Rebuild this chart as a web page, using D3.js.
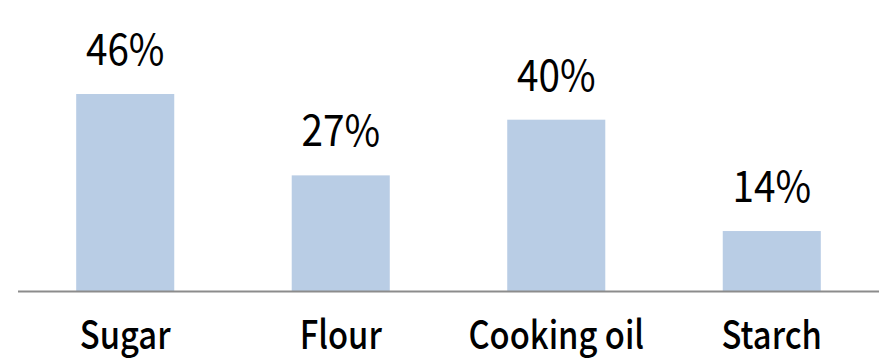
<!DOCTYPE html>
<html>
<head>
<meta charset="utf-8">
<script src="https://cdn.jsdelivr.net/npm/d3@7"></script>
<style>
  body { margin: 0; background: #fff; }
  text { font-family: "Noto Sans CJK KR", "Noto Sans", sans-serif; fill: #000; }
</style>
</head>
<body>
<div id="chart"></div>
<script>
// data
var categories = ["Sugar", "Flour", "Cooking oil", "Starch"];
var values = [46, 27, 40, 14];
var valueLabels = ["46%", "27%", "40%", "14%"];

var width = 879, height = 361;
var baseY = 291;

var svg = d3.select("#chart").append("svg")
    .attr("width", width)
    .attr("height", height);

var x = d3.scaleBand()
    .domain(categories)
    .range([18, 879])
    .paddingInner(0.545)
    .paddingOuter(0.27);

var y = d3.scaleLinear()
    .domain([0, 46])
    .range([baseY, 94]);

// bars
svg.selectAll("rect.bar")
    .data(values)
    .enter().append("rect")
    .attr("class", "bar")
    .attr("x", function(d, i) { return x(categories[i]); })
    .attr("y", function(d) { return y(d); })
    .attr("width", x.bandwidth())
    .attr("height", function(d) { return baseY - y(d); })
    .style("fill", "#b9cde5");

// baseline
svg.append("line")
    .attr("x1", 18).attr("x2", 879)
    .attr("y1", baseY + 0.5).attr("y2", baseY + 0.5)
    .style("stroke", "#8c8c8c")
    .style("stroke-width", 2);

// value labels (font squeezed a bit to match the narrow original face)
svg.selectAll("text.val")
    .data(values)
    .enter().append("text")
    .attr("class", "val")
    .attr("transform", function(d, i) {
      return "translate(" + (x(categories[i]) + x.bandwidth() / 2) + "," + (y(d) - 29) + ") scale(0.9,1)";
    })
    .attr("text-anchor", "middle")
    .style("font-size", "43px")
    .style("font-weight", 400)
    .text(function(d, i) { return valueLabels[i]; });

// category labels
svg.selectAll("text.cat")
    .data(categories)
    .enter().append("text")
    .attr("class", "cat")
    .attr("transform", function(d) {
      return "translate(" + (x(d) + x.bandwidth() / 2) + ",349) scale(0.84,1)";
    })
    .attr("text-anchor", "middle")
    .style("font-size", "39px")
    .style("font-weight", 500)
    .text(function(d) { return d; });
</script>
</body>
</html>
